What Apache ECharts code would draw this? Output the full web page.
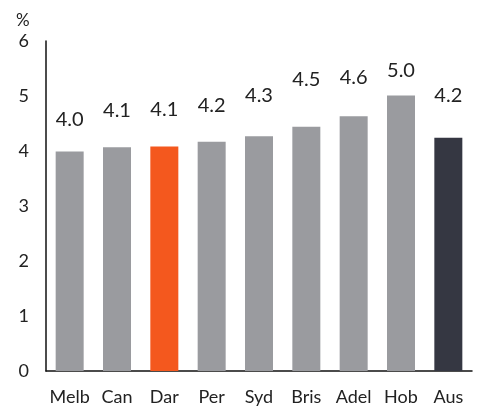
<!DOCTYPE html>
<html><head><meta charset="utf-8">
<script src="https://cdn.jsdelivr.net/npm/echarts@6/dist/echarts.min.js"></script>
<style>html,body{margin:0;padding:0;background:#fff}#c{width:477px;height:407px}</style>
</head><body><div id="c"></div>
<script>
var categories = ['Melb','Can','Dar','Per','Syd','Bris','Adel','Hob','Aus'];
var values = [3.99, 4.07, 4.08, 4.17, 4.27, 4.44, 4.63, 5.01, 4.24];
var labels = ['4.0','4.1','4.1','4.2','4.3','4.5','4.6','5.0','4.2'];
var yTicks = [0,1,2,3,4,5,6];

var colors = ['#9a9b9f','#9a9b9f','#f4581e','#9a9b9f','#9a9b9f','#9a9b9f','#9a9b9f','#9a9b9f','#353742'];
var labelGap = [22, 27, 27, 26, 31, 37, 29, 15, 32];

var chart = echarts.init(document.getElementById('c'));
var font = 'Lato, "Noto Sans", sans-serif';
chart.setOption({
  animation: false,
  title: { text: '%', left: 11, top: 7, textStyle: { fontFamily: font, fontSize: 17, fontWeight: 'normal', color: '#222' } },
  grid: { left: 46, right: 5, top: 41, bottom: 36 },
  xAxis: {
    type: 'category', data: categories,
    axisLine: { lineStyle: { color: '#111', width: 1.5 } },
    axisTick: { show: false },
    axisLabel: { interval: 0, fontFamily: font, fontSize: 18, color: '#222', margin: 17 }
  },
  yAxis: {
    type: 'value', min: yTicks[0], max: yTicks[yTicks.length-1], interval: 1,
    axisLine: { show: true, lineStyle: { color: '#111', width: 1.5 } },
    axisTick: { show: false },
    splitLine: { show: false },
    axisLabel: { fontFamily: font, fontSize: 18, color: '#222', margin: 17 }
  },
  series: [{
    type: 'bar', barWidth: 28,
    data: values.map(function (v, i) {
      return {
        value: v,
        itemStyle: { color: colors[i] },
        label: { show: true, position: 'top', distance: labelGap[i], formatter: labels[i],
                 fontFamily: font, fontSize: 20, color: '#222' }
      };
    })
  }]
});
</script></body></html>
